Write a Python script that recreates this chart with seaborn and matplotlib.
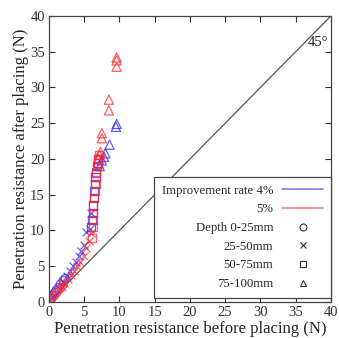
import matplotlib
matplotlib.use("Agg")
import matplotlib.pyplot as plt
import seaborn as sns
import pandas as pd
from matplotlib.lines import Line2D

# ---- data ----
b_circ_x = [0.1, 0.3, 0.5, 0.8, 1.0, 1.3, 1.6, 2.0, 2.3]
b_circ_y = [0.2, 0.5, 0.9, 1.3, 1.6, 2.0, 2.5, 3.0, 3.3]
b_cross_x = [2.0, 2.5, 3.0, 3.4, 3.8, 4.2, 4.6, 5.0, 5.3, 5.8, 6.0]
b_cross_y = [2.8, 3.6, 4.3, 5.0, 5.6, 6.5, 7.2, 8.0, 9.8, 10.2, 12.5]
b_sq_x = [6.0, 6.1, 6.2, 6.3, 6.4, 6.4, 6.5, 6.6, 6.7, 6.8, 6.9, 7.0]
b_sq_y = [10.5, 11.5, 12.5, 13.5, 14.5, 15.5, 16.5, 17.5, 18.0, 19.0, 19.5, 20.0]
b_tri_x = [7.2, 7.5, 7.8, 8.0, 8.6, 9.5, 9.6]
b_tri_y = [19.0, 19.8, 20.3, 20.8, 22.0, 24.5, 24.9]

r_circ_x = [0.1, 0.3, 0.5, 0.8, 1.1, 1.4, 1.7, 2.0]
r_circ_y = [0.0, 0.3, 0.6, 0.9, 1.3, 1.7, 2.0, 2.4]
r_cross_x = [1.8, 2.2, 2.7, 3.1, 3.5, 4.0, 4.4, 4.9, 5.3, 5.7, 6.0]
r_cross_y = [2.1, 2.7, 3.2, 3.8, 4.3, 5.0, 5.6, 6.5, 7.5, 8.5, 9.7]
r_sq_x = [6.1, 6.2, 6.2, 6.3, 6.3, 6.4, 6.5, 6.6, 6.6, 6.7, 6.8, 6.9, 7.0, 7.1]
r_sq_y = [9.0, 10.5, 11.5, 12.5, 13.5, 14.5, 15.5, 16.5, 17.5, 18.2, 19.0, 19.5, 20.0, 20.5]
r_tri_x = [7.0, 7.2, 7.3, 7.5, 7.5, 8.5, 8.5, 9.6, 9.6, 9.6]
r_tri_y = [20.0, 20.6, 21.0, 22.9, 23.6, 26.8, 28.3, 32.9, 33.8, 34.2]

rate_labels = ["Improvement rate 4%", "5%"]
depth_labels = ["Depth 0-25mm", "25-50mm", "50-75mm", "75-100mm"]
ticks = [0, 5, 10, 15, 20, 25, 30, 35, 40]

sns.set_theme(style="ticks")
plt.rcParams["font.family"] = ["Liberation Serif", "DejaVu Serif"]

fig = plt.figure(figsize=(3.39, 3.38), dpi=100)
ax = fig.add_axes([0.1445, 0.1065, 0.8315, 0.8462])

blue = "#2a2aff"
red = "#ff2a2a"
markers = ["o", "x", "s", "^"]
groups = [
    (blue, [(b_circ_x, b_circ_y), (b_cross_x, b_cross_y), (b_sq_x, b_sq_y), (b_tri_x, b_tri_y)]),
    (red, [(r_circ_x, r_circ_y), (r_cross_x, r_cross_y), (r_sq_x, r_sq_y), (r_tri_x, r_tri_y)]),
]
for color, sets in groups:
    for m, (xs, ys) in zip(markers, sets):
        df = pd.DataFrame({"x": xs, "y": ys})
        if m == "x":
            sns.scatterplot(data=df, x="x", y="y", marker=m, s=32, color=color,
                            linewidth=0.9, alpha=0.75, ax=ax, legend=False)
        else:
            sns.scatterplot(data=df, x="x", y="y", marker=m, s=34 if m != "^" else 44,
                            facecolors="none", edgecolor=color, linewidth=0.9,
                            alpha=0.75, ax=ax, legend=False)

ax.plot([0, 40], [0, 40], color="#555555", lw=0.9, zorder=0)
ax.text(39.7, 36.3, "45°", ha="right", va="center", fontsize=10.5, color="#222222")

ax.set_xlim(0, 40)
ax.set_ylim(0, 40)
ax.set_xticks(ticks)
ax.set_yticks(ticks)
ax.tick_params(direction="in", length=4, width=0.8, top=True, right=True,
               labelsize=10.5, colors="#333333", pad=3)
for sp in ax.spines.values():
    sp.set_visible(True)
    sp.set_color("#444444")
    sp.set_linewidth(0.9)
ax.set_xlabel("Penetration resistance before placing (N)", fontsize=12, labelpad=1)
ax.set_ylabel("Penetration resistance after placing (N)", fontsize=12, labelpad=1)

handles = [
    Line2D([], [], color="#7a7aff", lw=1.2),
    Line2D([], [], color="#ff7a7a", lw=1.2),
] + [Line2D([], [], ls="none", marker=m, mfc="none", mec="#333333", ms=5, mew=0.8)
     for m in markers]
leg = ax.legend(handles, rate_labels + depth_labels, loc="lower right",
                bbox_to_anchor=(1.0, 0.015), markerfirst=False, fontsize=9.2,
                frameon=True, fancybox=False, edgecolor="#444444", framealpha=1,
                handlelength=3.2, handletextpad=0.7, labelspacing=0.52,
                borderpad=0.6, borderaxespad=0)
leg.get_frame().set_linewidth(0.9)

fig.savefig("out.png", dpi=100)
